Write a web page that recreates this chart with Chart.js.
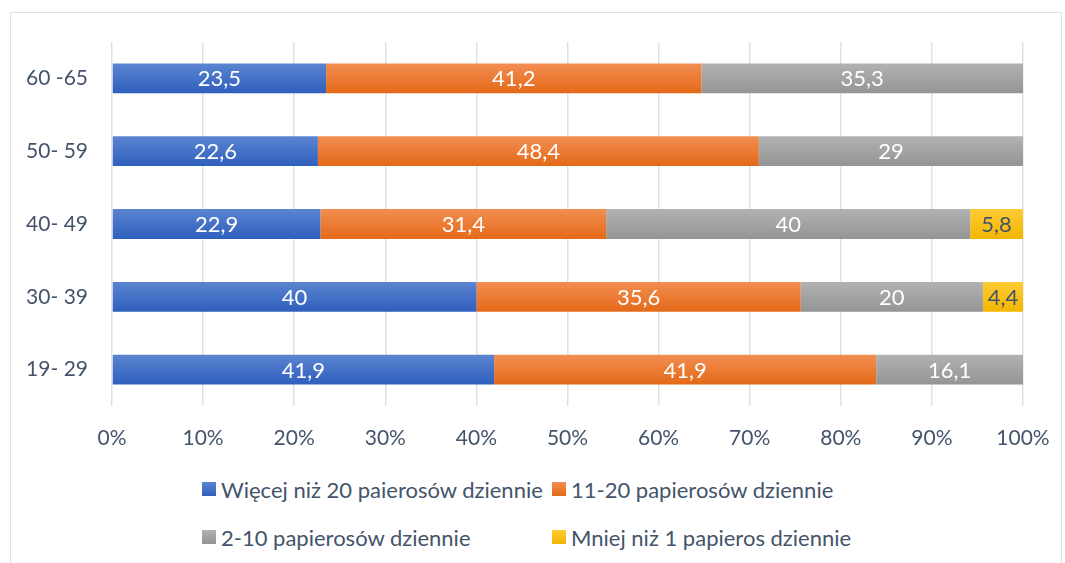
<!DOCTYPE html>
<html>
<head>
<meta charset="utf-8">
<script src="https://cdn.jsdelivr.net/npm/chart.js@4"></script>
<style>
  body { margin: 0; width: 1065px; height: 563px; overflow: hidden; background: #fff; font-family: Lato, sans-serif; }
  #frame { position: absolute; left: 10px; top: 12px; width: 1050px; height: 600px; border: 1.5px solid #dde1e8; }
  #wrap { position: absolute; left: 0; top: 0; width: 1065px; height: 466px; }
  #legend { position: absolute; left: 202px; top: 475px; display: grid; grid-template-columns: 350px auto; row-gap: 20px; color: #44546a; font-size: 22px; }
  .item { display: flex; align-items: center; height: 28px; }
  .box { width: 14px; height: 14px; margin-right: 5px; }
</style>
</head>
<body>
<div id="frame"></div>
<div id="wrap"><canvas id="chart"></canvas></div>
<div id="legend"></div>
<script>
// age groups, top to bottom
var categories = ["60 -65", "50- 59", "40- 49", "30- 39", "19- 29"];
var seriesNames = [
  "Więcej niż 20 paierosów dziennie",
  "11-20 papierosów dziennie",
  "2-10 papierosów dziennie",
  "Mniej niż 1 papieros dziennie"
];
var over20 = [23.5, 22.6, 22.9, 40, 41.9];
var from11to20 = [41.2, 48.4, 31.4, 35.6, 41.9];
var from2to10 = [35.3, 29, 40, 20, 16.1];
var under1 = [0, 0, 5.8, 4.4, 0];
var xTicks = [0, 10, 20, 30, 40, 50, 60, 70, 80, 90, 100];

var allSeries = [over20, from11to20, from2to10, under1];
var colors = [
  ["#5b85d0", "#2f5fbe"],
  ["#f28e52", "#e46918"],
  ["#b2b2b2", "#949494"],
  ["#ffcb35", "#f2b600"]
];
var labelColors = ["#fff", "#fff", "#fff", "#44546a"];
var barPct = 0.41;

// 100% stacked: share of each row total
var totals = categories.map(function (c, i) {
  return allSeries.reduce(function (s, arr) { return s + arr[i]; }, 0);
});

function gradient(pair) {
  return function (ctx) {
    var chart = ctx.chart;
    var y = chart.scales.y;
    if (!y || ctx.type !== "data") return pair[1];
    var cy = y.getPixelForValue(ctx.dataIndex);
    var half = (y.height / categories.length) * barPct / 2;
    if (!isFinite(cy) || !isFinite(half) || half <= 0) return pair[1];
    var g = chart.ctx.createLinearGradient(0, cy - half, 0, cy + half);
    g.addColorStop(0, pair[0]);
    g.addColorStop(1, pair[1]);
    return g;
  };
}

var datasets = allSeries.map(function (arr, k) {
  return {
    label: seriesNames[k],
    data: arr.map(function (v, i) { return v / totals[i] * 100; }),
    raw: arr,
    backgroundColor: gradient(colors[k]),
    borderWidth: 0,
    barPercentage: barPct,
    categoryPercentage: 1
  };
});

var barLabels = {
  id: "barLabels",
  afterDatasetsDraw: function (chart) {
    var ctx = chart.ctx;
    ctx.save();
    ctx.font = "22px Lato";
    ctx.textAlign = "center";
    ctx.textBaseline = "middle";
    chart.data.datasets.forEach(function (ds, k) {
      chart.getDatasetMeta(k).data.forEach(function (bar, i) {
        var v = ds.raw[i];
        if (!v) return;
        ctx.fillStyle = labelColors[k];
        ctx.fillText(String(v).replace(".", ","), (bar.x + bar.base) / 2, bar.y + 1);
      });
    });
    ctx.restore();
  }
};

new Chart(document.getElementById("chart").getContext("2d"), {
  type: "bar",
  data: { labels: categories, datasets: datasets },
  plugins: [barLabels],
  options: {
    indexAxis: "y",
    responsive: true,
    maintainAspectRatio: false,
    animation: false,
    layout: { padding: { top: 42, right: 42, left: 0, bottom: 0 } },
    plugins: { legend: { display: false }, tooltip: { enabled: false } },
    scales: {
      x: {
        stacked: true,
        min: 0,
        max: 100,
        afterBuildTicks: function (scale) {
          scale.ticks = xTicks.map(function (v) { return { value: v }; });
        },
        afterFit: function (scale) {
          scale.height = 60;
          scale.paddingLeft = 0;
          scale.paddingRight = 0;
        },
        border: { display: false },
        grid: { color: "#dde1e8", lineWidth: 1.5, drawTicks: false },
        ticks: {
          padding: 20,
          color: "#44546a",
          font: { family: "Lato", size: 21 },
          callback: function (v) { return v + "%"; }
        }
      },
      y: {
        stacked: true,
        afterFit: function (scale) { scale.width = 112; },
        border: { display: false },
        grid: { display: false, drawTicks: false },
        ticks: {
          padding: 24,
          color: "#44546a",
          font: { family: "Lato", size: 21 }
        }
      }
    }
  }
});

var legend = document.getElementById("legend");
seriesNames.forEach(function (name, k) {
  var item = document.createElement("div");
  item.className = "item";
  var box = document.createElement("span");
  box.className = "box";
  box.style.background = "linear-gradient(" + colors[k][0] + "," + colors[k][1] + ")";
  var txt = document.createElement("span");
  txt.textContent = name;
  item.appendChild(box);
  item.appendChild(txt);
  legend.appendChild(item);
});
</script>
</body>
</html>
